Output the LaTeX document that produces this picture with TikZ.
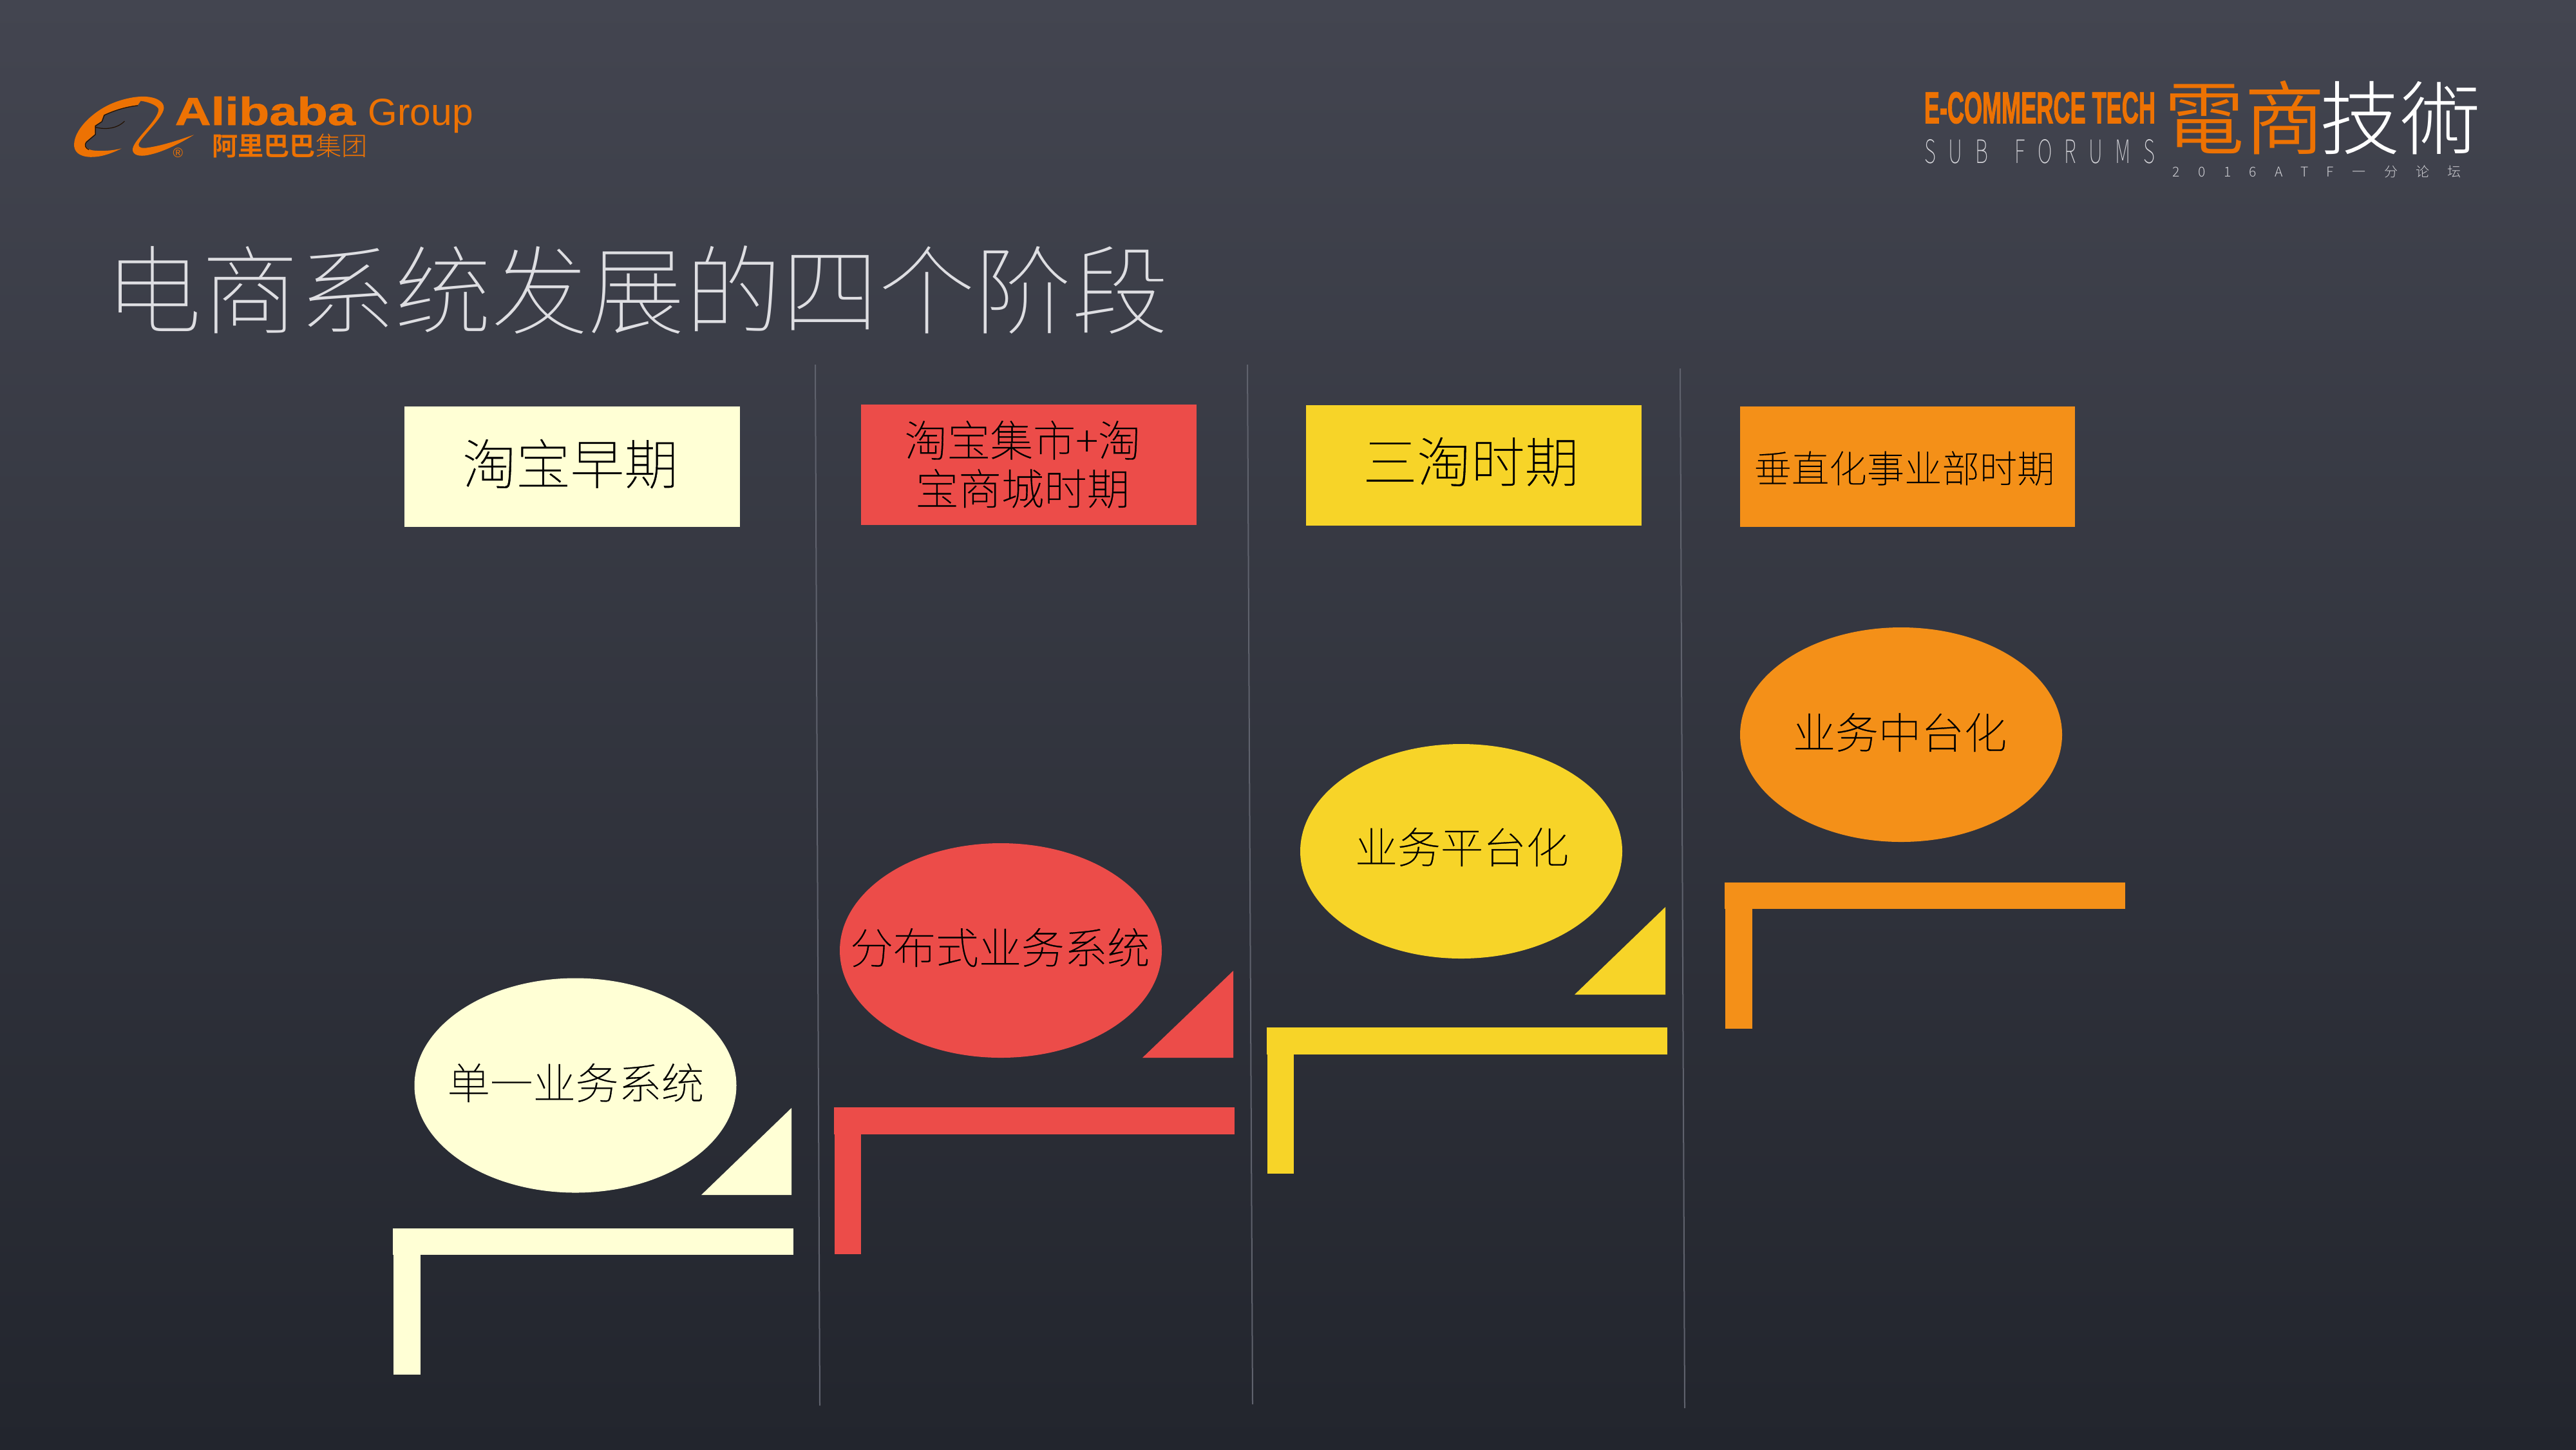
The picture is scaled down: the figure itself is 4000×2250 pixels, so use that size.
\documentclass[tikz,border=0pt]{standalone}
\usepackage{fontspec}
\usepackage{graphicx}
\usetikzlibrary{shapes.geometric}
\setmainfont{Liberation Sans}
\newfontfamily\cjklight[UprightFont={* Light}]{Noto Sans CJK SC}
\newfontfamily\cjkbody[UprightFont={* Thin},FakeBold=0.55]{Noto Sans CJK SC}
\newfontfamily\cjkthin[UprightFont={* Thin}]{Noto Sans CJK SC}
\newfontfamily\cjkbold[UprightFont={* Bold}]{Noto Sans CJK SC}
\newfontfamily\tcreg[UprightFont={* DemiLight}]{Noto Sans CJK TC}
\newfontfamily\tclight[UprightFont={* Light}]{Noto Sans CJK TC}
\newfontfamily\thinspaced[UprightFont={* Thin},LetterSpace=62,WordSpace=1.6]{Noto Sans CJK SC}
\newfontfamily\thinwide[UprightFont={* Light},LetterSpace=135]{Noto Sans CJK SC}
\newfontfamily\heavy[FakeBold=2.2]{Liberation Sans Bold}
\newfontfamily\heavyb[FakeBold=1]{Liberation Sans Bold}
\definecolor{cream}{HTML}{FFFFD5}
\definecolor{redfill}{HTML}{EC4C49}
\definecolor{yelfill}{HTML}{F7D428}
\definecolor{orafill}{HTML}{F49018}
\definecolor{logoor}{HTML}{ED7203}
\definecolor{sepcol}{HTML}{5F626D}
\tikzset{
  txt/.style={inner sep=0pt,text=black},
  stagebox/.style={rectangle,inner sep=0pt,text=black,minimum width=521*0.01cm,minimum height=187*0.01cm,align=center},
  blob/.style={ellipse,inner sep=0pt,minimum width=500*0.01cm,minimum height=333*0.01cm},
  sep/.style={draw=sepcol,line width=0.02cm},
  big/.style={font=\cjkbody\fontsize{23.8}{23.8}\selectfont},
  mid/.style={font=\cjkbody\fontsize{18.9}{21.3}\selectfont},
}
\begin{document}
\begin{tikzpicture}[x=0.01cm,y=-0.01cm]
\useasboundingbox (0,0) rectangle (4000,2250);
\shade[top color={rgb,255:red,67;green,69;blue,80},bottom color={rgb,255:red,34;green,37;blue,45}] (0,0) rectangle (4000,2250);

% separators
\coordinate (s1a) at (1266,566); \coordinate (s1b) at (1273,2182);
\coordinate (s2a) at (1937,566); \coordinate (s2b) at (1945,2180);
\coordinate (s3a) at (2609,572); \coordinate (s3b) at (2616,2186);
\draw[sep] (s1a) -- (s1b);
\draw[sep] (s2a) -- (s2b);
\draw[sep] (s3a) -- (s3b);

% title
\node[inner sep=0pt,text={rgb,255:red,222;green,222;blue,226},font=\cjkthin\fontsize{42.7}{42.7}\selectfont] (title) at (989,450) {电商系统发展的四个阶段};

% stage boxes
\node[stagebox,fill=cream] (b1) at (888.5,724.5) {};
\node[txt,big] (b1t) at (885.5,720) {淘宝早期};
\node[stagebox,fill=redfill] (b2) at (1597.5,721.5) {};
\node[txt,align=center,mid] (b2t) at (1588,721) {淘宝集市+淘\\宝商城时期};
\node[stagebox,fill=yelfill] (b3) at (2288.5,722.5) {};
\node[txt,big] (b3t) at (2284,717) {三淘时期};
\node[stagebox,fill=orafill,minimum width=520*0.01cm] (b4) at (2962,724.5) {};
\node[txt,font=\cjkbody\fontsize{16.6}{16.6}\selectfont] (b4t) at (2957,727) {垂直化事业部时期};

% ellipses
\node[blob,fill=cream] (e1) at (893.5,1685) {};
\node[txt,mid] (e1t) at (894,1681) {单一业务系统};
\node[blob,fill=redfill] (e2) at (1554,1475.5) {};
\node[txt,mid] (e2t) at (1553,1471) {分布式业务系统};
\node[blob,fill=yelfill] (e3) at (2269,1321.5) {};
\node[txt,mid] (e3t) at (2270,1315) {业务平台化};
\node[blob,fill=orafill] (e4) at (2952,1140.5) {};
\node[txt,mid] (e4t) at (2950,1137) {业务中台化};

% triangles
\fill[cream] (1089,1855) -- (1229,1855) -- (1229,1720) -- cycle;
\fill[redfill] (1774,1642) -- (1915,1642) -- (1915,1507) -- cycle;
\fill[yelfill] (2445,1544) -- (2586,1544) -- (2586,1408) -- cycle;

% L bars
\fill[cream] (610,1907) rectangle (1232,1948);
\fill[cream] (611,1948) rectangle (653,2134);
\fill[redfill] (1295,1719) rectangle (1917,1761);
\fill[redfill] (1296,1761) rectangle (1337,1946.5);
\fill[yelfill] (1967,1595) rectangle (2589,1637);
\fill[yelfill] (1968,1637) rectangle (2009,1821.5);
\fill[orafill] (2678,1370) rectangle (3300,1411);
\fill[orafill] (2679,1411) rectangle (2721,1597);

% Alibaba logo symbol
\begin{scope}[shift={(60,100)},x=0.00459cm,y=-0.00333cm]
\fill[logoor] (280,392) .. controls (240,420) and (205,433) .. (175,432)
  .. controls (135,430) and (118,405) .. (120,370)
  .. controls (122,310) and (170,235) .. (235,190)
  .. controls (280,160) and (330,148) .. (360,150)
  .. controls (400,153) and (425,175) .. (423,205)
  .. controls (420,250) and (345,340) .. (338,372)
  .. controls (335,390) and (352,392) .. (370,388)
  .. controls (420,378) and (480,350) .. (525,328)
  .. controls (470,375) and (410,415) .. (360,425)
  .. controls (330,430) and (315,415) .. (318,392)
  .. controls (325,345) and (405,260) .. (405,210)
  .. controls (405,195) and (375,175) .. (345,170)
  -- (335,190) .. controls (300,195) and (260,210) .. (220,235)
  -- (212,265) -- (190,285) -- (190,325) -- (160,360)
  .. controls (150,380) and (165,400) .. (190,402)
  .. controls (220,405) and (250,402) .. (280,392) -- cycle;
\draw[black!85!logoor,line width=0.012cm] (335,192) .. controls (300,197) and (260,212) .. (222,237) -- (214,267) -- (192,287) -- (192,327) -- (162,362) .. controls (152,378) and (160,392) .. (170,398);
\draw[black!85!logoor,line width=0.012cm,line cap=round] (192,293) .. controls (225,305) and (265,300) .. (290,265);
\node[inner sep=0pt,text=logoor,font=\fontsize{6}{6}\selectfont] (reg) at (471,413) {®};
\end{scope}

% Alibaba logo text
\node[anchor=base west,inner sep=0pt,text=logoor] (ali) at (271,194) {\resizebox{2.8cm}{0.44cm}{\heavyb Alibaba}};
\node[anchor=base west,inner sep=0pt,text=logoor,font=\fontsize{16.7}{16.7}\selectfont] (grp) at (571,194) {Group};
\node[anchor=west,inner sep=0pt,text=logoor,font=\fontsize{11.4}{11.4}\selectfont] (alicn) at (329,227) {{\cjkbold 阿里巴巴}{\cjklight 集团}};

% E-commerce logo
\node[anchor=base west,inner sep=0pt,text=logoor] (ec) at (2987,191) {\resizebox{3.59cm}{0.48cm}{\heavy E-COMMERCE TECH}};
\node[anchor=base west,inner sep=0pt,text={rgb,255:red,215;green,215;blue,220}] (sf) at (2988,253) {\resizebox{3.57cm}{0.37cm}{\thinspaced SUB FORUMS}};
\node[anchor=west,inner sep=0pt,text=logoor,font=\tcreg\fontsize{35.5}{35.5}\selectfont] (dian) at (3360,183) {電商};
\node[anchor=west,inner sep=0pt,text=white,font=\tclight\fontsize{35.5}{35.5}\selectfont] (jishu) at (3602,183) {技術};
\node[anchor=base west,inner sep=0pt,text={rgb,255:red,205;green,205;blue,210}] (atf) at (3373,274) {\resizebox{4.48cm}{!}{\thinwide\fontsize{5.8}{5.8}\selectfont 2016ATF一分论坛}};
\end{tikzpicture}
\end{document}
